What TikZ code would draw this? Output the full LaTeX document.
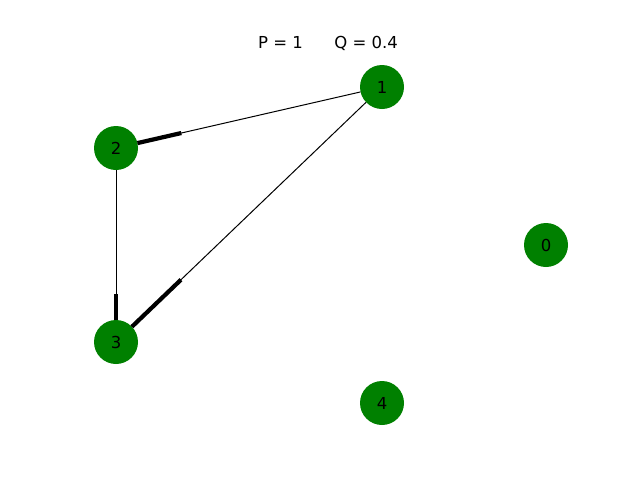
\documentclass[tikz,border=0pt]{standalone}
\usepackage{fontspec}
\setmainfont{DejaVu Sans}
\usetikzlibrary{calc}
\definecolor{nodegreen}{HTML}{008000}
\begin{document}
\begin{tikzpicture}[x=1pt,y=-1pt,
  vertex/.style={circle,fill=nodegreen,minimum size=44pt,inner sep=0pt,font=\fontsize{16.5}{18}\selectfont},
  edge/.style={line width=1pt},
  heavy/.style={line width=4.2pt}]
\useasboundingbox (0,0) rectangle (640,480);
\node[font=\fontsize{16.5}{18}\selectfont] (title) at (328,43) {P = 1\hspace{1.91em}Q = 0.4};
\node[vertex] (n1) at (382,87) {1};
\node[vertex] (n2) at (116,148) {2};
\node[vertex] (n0) at (546,245) {0};
\node[vertex] (n3) at (116,342) {3};
\node[vertex] (n4) at (382,403) {4};
\draw[edge] (n1) -- (n2);
\draw[edge] (n1) -- (n3);
\draw[edge] (n2) -- (n3);
\draw[heavy] ($(n2.center)!22pt!(n1.center)$) -- ($(n2.center)!67pt!(n1.center)$);
\draw[heavy] ($(n3.center)!22pt!(n1.center)$) -- ($(n3.center)!90pt!(n1.center)$);
\draw[heavy] ($(n3.center)!22pt!(n2.center)$) -- ($(n3.center)!48.5pt!(n2.center)$);
\end{tikzpicture}
\end{document}
